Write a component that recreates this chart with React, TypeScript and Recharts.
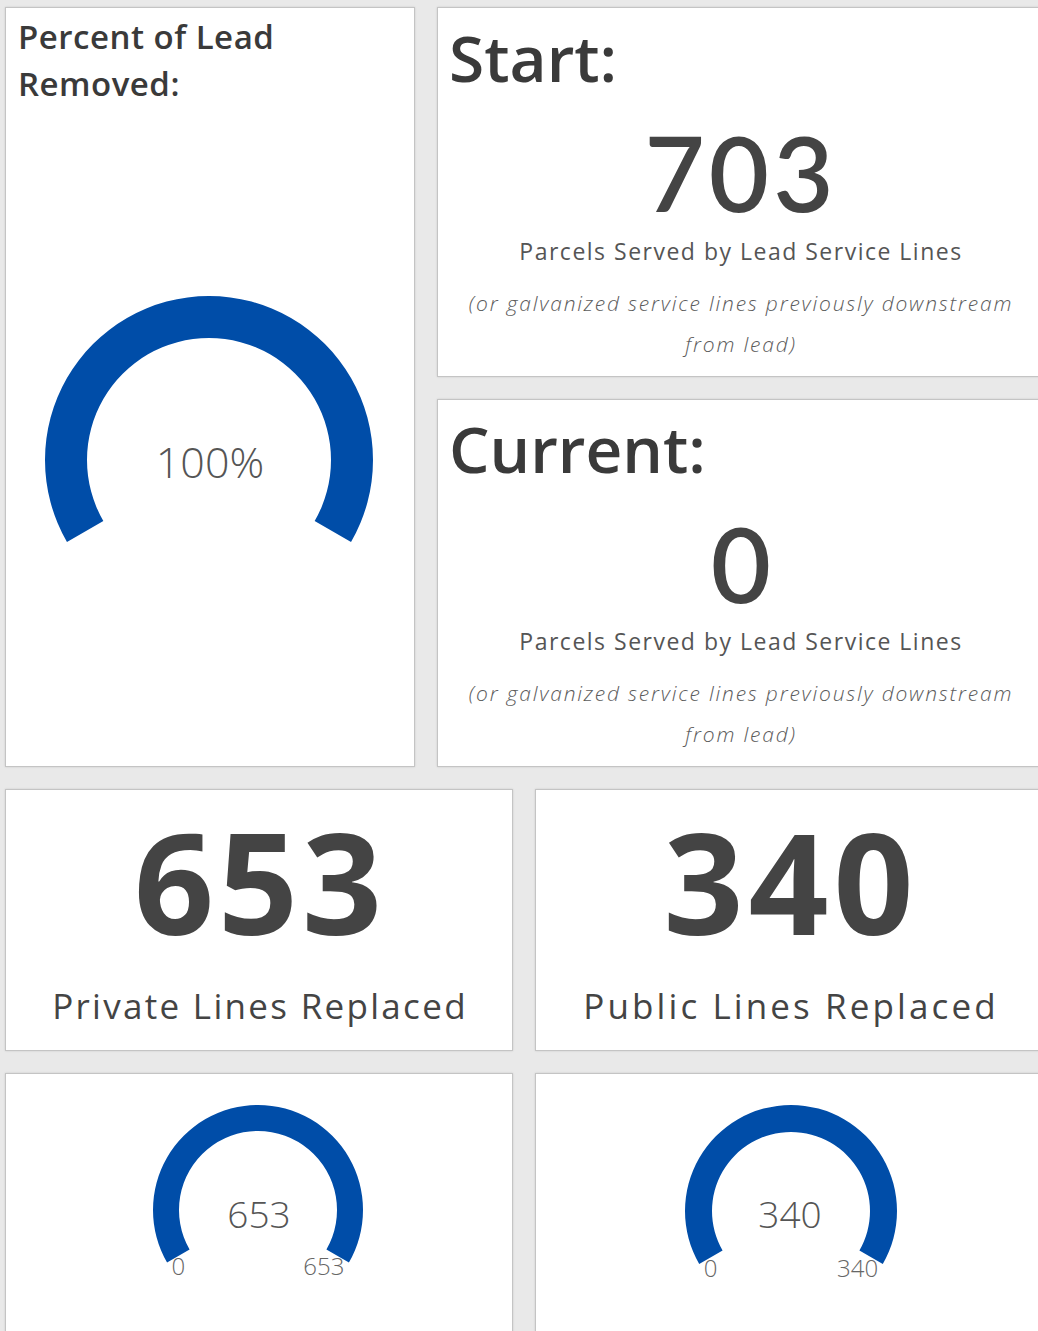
import React from "react";
import { Cell, Label, Pie, PieChart } from "recharts";

// dashboard values
const startParcels = 703;
const currentParcels = 0;
const privateReplaced = 653;
const publicReplaced = 340;
const privateTotal = 653;
const publicTotal = 340;

const percentRemoved = Math.round(((startParcels - currentParcels) / startParcels) * 100);

const BLUE = "#004da8";
const REST = "#e2e2e2";
const FONT = "'Open Sans', Lato, sans-serif";
const NUM_FONT = "Lato, 'Open Sans', sans-serif";

const START_ANGLE = 210;
const END_ANGLE = -30;

interface CardProps {
  left: number;
  top: number;
  width: number;
  height: number;
  children?: React.ReactNode;
}

const Card = ({ left, top, width, height, children }: CardProps) => (
  <div
    style={{
      position: "absolute",
      left,
      top,
      width,
      height,
      boxSizing: "border-box",
      background: "#fff",
      border: "1px solid #c4c4c4",
      boxShadow: "0 0 2px rgba(0,0,0,0.12)",
    }}
  >
    {children}
  </div>
);

interface TextProps {
  x: number;
  baseline: number;
  size: number;
  align?: "left" | "center" | "right";
  width?: number;
  weight?: number;
  italic?: boolean;
  color?: string;
  spacing?: number;
  family?: string;
  children: React.ReactNode;
}

const T = ({
  x,
  baseline,
  size,
  align = "left",
  width = 0,
  weight = 400,
  italic,
  color = "#444",
  spacing = 0,
  family = FONT,
  children,
}: TextProps) => {
  // line-height 1: baseline sits ~0.89em (Open Sans) / ~0.887em (Lato) under the box top
  const style: React.CSSProperties = {
    position: "absolute",
    top: baseline - 0.89 * size,
    fontSize: size,
    lineHeight: 1,
    fontFamily: family,
    fontWeight: weight,
    fontStyle: italic ? "italic" : "normal",
    letterSpacing: spacing,
    color,
    whiteSpace: "nowrap",
  };
  if (align === "left") style.left = x;
  else if (align === "center") {
    style.left = x - width / 2;
    style.width = width;
    style.textAlign = "center";
  } else {
    style.left = x - width;
    style.width = width;
    style.textAlign = "right";
  }
  return <div style={style}>{children}</div>;
};

interface GaugeProps {
  value: number;
  max: number;
  width: number;
  height: number;
  cx: number;
  cy: number;
  inner: number;
  outer: number;
  label: string;
  labelSize: number;
  labelDy: number;
  showRange?: boolean;
}

const Gauge = ({ value, max, width, height, cx, cy, inner, outer, label, labelSize, labelDy, showRange }: GaugeProps) => {
  const data = [
    { name: "value", value },
    { name: "rest", value: Math.max(max - value, 0) },
  ];
  const rad = (START_ANGLE * Math.PI) / 180;
  const rangeX = Math.abs(Math.cos(rad)) * outer * 0.95;
  const rangeBase = cy + Math.abs(Math.sin(rad)) * outer + 13;
  return (
    <div style={{ position: "relative", width, height }}>
      <PieChart width={width} height={height} margin={{ top: 0, right: 0, bottom: 0, left: 0 }}>
        <Pie
          data={data}
          dataKey="value"
          cx={cx}
          cy={cy}
          innerRadius={inner}
          outerRadius={outer}
          startAngle={START_ANGLE}
          endAngle={END_ANGLE}
          stroke="none"
          isAnimationActive={false}
        >
          {data.map((d, i) => (
            <Cell key={i} fill={i === 0 ? BLUE : REST} />
          ))}
          <Label
            value={label}
            position="center"
            fill="#555"
            dy={labelDy}
            style={{ fontSize: labelSize, fontFamily: FONT, fontWeight: 300 }}
          />
        </Pie>
      </PieChart>
      {showRange && (
        <>
          <T x={cx - rangeX} baseline={rangeBase} size={24} color="#666" weight={300}>
            0
          </T>
          <T x={cx + rangeX} baseline={rangeBase} size={24} align="right" width={80} color="#666" weight={300}>
            {max}
          </T>
        </>
      )}
    </div>
  );
};

const Parcels = ({ base }: { base: number }) => (
  <>
    <T x={303} baseline={base} size={23} align="center" width={600} color="#555" spacing={1.5}>
      Parcels Served by Lead Service Lines
    </T>
    <T x={303} baseline={base + 52} size={21} align="center" width={600} italic weight={300} color="#5c5c5c" spacing={1.8}>
      (or galvanized service lines previously downstream
    </T>
    <T x={303} baseline={base + 93} size={21} align="center" width={600} italic weight={300} color="#5c5c5c" spacing={1.8}>
      from lead)
    </T>
  </>
);

export default function App() {
  return (
    <div
      style={{
        position: "absolute",
        left: 0,
        top: 0,
        width: 1038,
        height: 1331,
        overflow: "hidden",
        background: "#e9e9e9",
        fontFamily: FONT,
      }}
    >
      <Card left={5} top={7} width={410} height={760}>
        <div
          style={{
            position: "absolute",
            left: 12,
            top: 5,
            fontSize: 33,
            lineHeight: "47px",
            fontWeight: 600,
            letterSpacing: 0.5,
            color: "#3a3a3a",
          }}
        >
          Percent of Lead
          <br />
          Removed:
        </div>
        <div style={{ position: "absolute", left: 0, top: 240 }}>
          <Gauge
            value={percentRemoved}
            max={100}
            width={408}
            height={420}
            cx={203}
            cy={212}
            inner={122}
            outer={164}
            label={`${percentRemoved}%`}
            labelSize={43}
            labelDy={5}
          />
        </div>
      </Card>

      <Card left={437} top={7} width={606} height={370}>
        <T x={11} baseline={75} size={64} weight={600} color="#3a3a3a">
          Start:
        </T>
        <T x={303} baseline={205} size={104} align="center" width={600} weight={600} color="#444" spacing={4} family={NUM_FONT}>
          {startParcels}
        </T>
        <Parcels base={252} />
      </Card>

      <Card left={437} top={399} width={606} height={368}>
        <T x={11} baseline={74} size={64} weight={600} color="#3a3a3a">
          Current:
        </T>
        <T x={303} baseline={204} size={104} align="center" width={600} weight={600} color="#444" family={NUM_FONT}>
          {currentParcels}
        </T>
        <Parcels base={250} />
      </Card>

      <Card left={5} top={789} width={508} height={262}>
        <T x={254} baseline={146} size={140} align="center" width={508} weight={700} color="#444" spacing={4}>
          {privateReplaced}
        </T>
        <T x={254} baseline={229} size={35} align="center" width={508} color="#444" spacing={2.3}>
          Private Lines Replaced
        </T>
      </Card>

      <Card left={535} top={789} width={510} height={262}>
        <T x={255} baseline={146} size={140} align="center" width={510} weight={700} color="#444" spacing={5}>
          {publicReplaced}
        </T>
        <T x={255} baseline={229} size={35} align="center" width={510} color="#444" spacing={3.1}>
          Public Lines Replaced
        </T>
      </Card>

      <Card left={5} top={1073} width={508} height={270}>
        <div style={{ position: "absolute", left: 0, top: 0 }}>
          <Gauge
            value={privateReplaced}
            max={privateTotal}
            width={506}
            height={260}
            cx={252}
            cy={136}
            inner={79}
            outer={105}
            label={String(privateReplaced)}
            labelSize={37}
            labelDy={11}
            showRange
          />
        </div>
      </Card>

      <Card left={535} top={1073} width={510} height={270}>
        <div style={{ position: "absolute", left: 0, top: 0 }}>
          <Gauge
            value={publicReplaced}
            max={publicTotal}
            width={508}
            height={260}
            cx={255}
            cy={137}
            inner={79}
            outer={106}
            label={String(publicReplaced)}
            labelSize={37}
            labelDy={11}
            showRange
          />
        </div>
      </Card>
    </div>
  );
}
